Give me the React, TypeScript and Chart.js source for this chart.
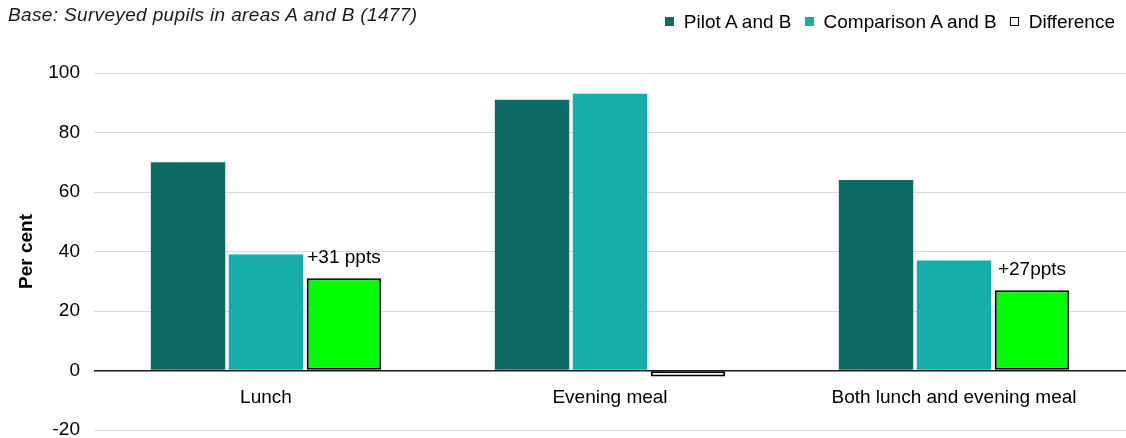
import React, { useEffect, useRef } from 'react';
import { Chart, registerables } from 'chart.js';

Chart.register(...registerables);

const categories = ['Lunch', 'Evening meal', 'Both lunch and evening meal'];
const pilotValues = [70, 91, 64];
const comparisonValues = [39, 93, 37];
const differenceValues = [31, -2, 27];
const differenceLabels = ['+31 ppts', '', '+27ppts'];
const seriesNames = ['Pilot A and B', 'Comparison A and B', 'Difference'];
const yMin = -20;
const yMax = 100;
const yStep = 20;
const baseNote = 'Base: Surveyed pupils in areas A and B (1477)';
const yTitle = 'Per cent';

const FONT = '"Liberation Sans", Arial, Helvetica, sans-serif';
const PILOT = '#0f6b66';
const COMPARISON = '#17aeaa';
const DIFF_POS = '#00ff00';
const DIFF_NEG = '#ffffff';

const diffLabelPlugin = {
  id: 'diffLabels',
  afterDatasetsDraw(chart: any) {
    const meta = chart.getDatasetMeta(2);
    const ctx = chart.ctx;
    ctx.save();
    ctx.font = `19px ${FONT}`;
    ctx.fillStyle = '#000';
    ctx.textAlign = 'center';
    ctx.textBaseline = 'alphabetic';
    meta.data.forEach((el: any, i: number) => {
      const txt = differenceLabels[i];
      if (!txt) return;
      ctx.fillText(txt, el.x, el.y - 15);
    });
    ctx.restore();
  },
};

export default function App() {
  const ref = useRef<HTMLCanvasElement | null>(null);

  useEffect(() => {
    if (!ref.current) return;
    const chart = new Chart(ref.current, {
      type: 'bar',
      data: {
        labels: categories,
        datasets: [
          { label: seriesNames[0], data: pilotValues, backgroundColor: PILOT, borderWidth: 0 },
          { label: seriesNames[1], data: comparisonValues, backgroundColor: COMPARISON, borderWidth: 0 },
          {
            label: seriesNames[2],
            data: differenceValues,
            backgroundColor: (c: any) => (c.raw < 0 ? DIFF_NEG : DIFF_POS),
            borderColor: '#000',
            borderWidth: 2,
            borderSkipped: false,
          },
        ],
      },
      options: {
        responsive: false,
        animation: false,
        devicePixelRatio: 1,
        font: { family: FONT },
        layout: { autoPadding: false, padding: { top: 73, bottom: 8, left: 0, right: 0 } },
        datasets: { bar: { categoryPercentage: 0.68, barPercentage: 0.955 } },
        plugins: {
          legend: { display: false },
          title: { display: false },
          tooltip: { enabled: false },
        },
        scales: {
          x: {
            position: { y: 0 } as any,
            grid: { display: false, drawTicks: false },
            border: { display: false },
            ticks: { color: '#000', font: { family: FONT, size: 19 }, padding: 16, maxRotation: 0 },
            afterFit: (s: any) => { s.height = 0; },
          },
          y: {
            min: yMin,
            max: yMax,
            ticks: { stepSize: yStep, color: '#000', font: { family: FONT, size: 19, lineHeight: 0.8 }, padding: 0 },
            grid: {
              drawTicks: true,
              tickLength: 14,
              tickColor: 'rgba(0,0,0,0)',
              color: (c: any) => (c.tick && c.tick.value === 0 ? '#1a1a1a' : '#dadada'),
              lineWidth: (c: any) => (c.tick && c.tick.value === 0 ? 1.6 : 1),
            },
            border: { display: false },
            title: {
              display: true,
              text: yTitle,
              color: '#000',
              font: { family: FONT, size: 19, weight: 'bold' },
              padding: { top: 15, bottom: 4 },
            },
            afterFit: (s: any) => { s.width = 94; },
          },
        },
      },
      plugins: [diffLabelPlugin],
    } as any);
    return () => chart.destroy();
  }, []);

  const swatches = [
    { name: seriesNames[0], fill: PILOT, border: 'none' },
    { name: seriesNames[1], fill: COMPARISON, border: 'none' },
    { name: seriesNames[2], fill: '#ffffff', border: '1.5px solid #000' },
  ];

  return (
    <div style={{ position: 'absolute', left: 0, top: 0, width: 1126, height: 438, background: '#fff', fontFamily: FONT }}>
      <canvas ref={ref} width={1126} height={438} style={{ position: 'absolute', left: 0, top: 0 }} />
      <div style={{ position: 'absolute', left: 8, top: 5, fontSize: 19, lineHeight: '19px', letterSpacing: '0.35px', fontStyle: 'italic', color: '#1a1a1a', whiteSpace: 'nowrap' }}>
        {baseNote}
      </div>
      <div style={{ position: 'absolute', right: 11, top: 12, height: 19, display: 'flex', alignItems: 'center', fontSize: 19, lineHeight: '19px', color: '#000', whiteSpace: 'nowrap' }}>
        {swatches.map((s, i) => (
          <div key={s.name} style={{ display: 'flex', alignItems: 'center', marginLeft: i === 0 ? 0 : 13 }}>
            <span style={{ display: 'inline-block', width: 9, height: 9, boxSizing: 'border-box', background: s.fill, border: s.border, marginRight: 10 }} />
            <span>{s.name}</span>
          </div>
        ))}
      </div>
    </div>
  );
}
